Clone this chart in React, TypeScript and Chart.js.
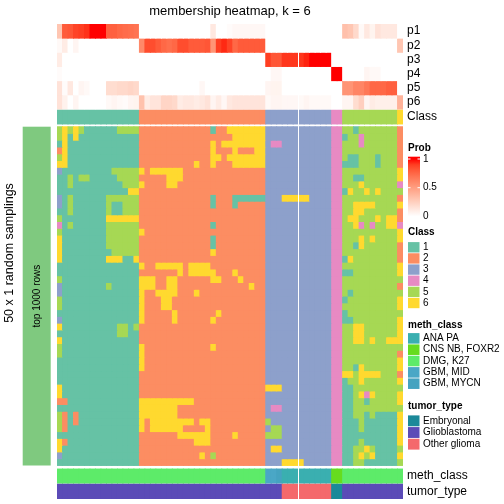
import React, { useEffect, useRef } from "react";
import { Chart, registerables } from "chart.js";

Chart.register(...registerables);

// ---------------- DATA ----------------
// column (sample) consensus class, blocks separated by spaces for readability
const columnClass = "111111111111111 22222222222222222222222 333333333333 44 5555555555 6";

// membership probabilities p1..p6 per column (63 columns)
const p1 = [
  0.3, 0.8, 0.82, 0.88, 0.9, 0.93, 1, 1, 1, 0.78, 0.78, 0.75, 0.73, 0.72, 0.7,
  0, 0, 0, 0, 0, 0, 0, 0, 0, 0, 0, 0, 0, 0.12, 0, 0, 0.02, 0.04, 0.04, 0.04, 0.04, 0.04, 0.04,
  0, 0, 0, 0, 0, 0, 0, 0, 0, 0, 0, 0,
  0, 0,
  0.33, 0.3, 0.2, 0.03, 0.12, 0.06, 0.15, 0.12, 0.12, 0.12,
  0,
];
const p2 = [
  0.03, 0.1, 0, 0.05, 0, 0, 0, 0, 0, 0, 0, 0, 0, 0, 0,
  0.6, 0.85, 0.85, 0.8, 0.75, 0.72, 0.75, 0.85, 0.85, 0.8, 0.8, 0.8, 0.82, 0.55, 0.9, 0.95, 0.88, 0.75, 0.8, 0.8, 0.8, 0.8, 0.8,
  0, 0, 0, 0, 0, 0, 0, 0, 0, 0, 0, 0,
  0, 0,
  0, 0, 0, 0, 0, 0, 0, 0, 0, 0,
  0.3,
];
const p3 = [
  0.1, 0, 0, 0, 0, 0, 0, 0, 0, 0, 0, 0, 0, 0, 0,
  0, 0, 0, 0, 0, 0, 0, 0, 0, 0, 0, 0, 0, 0, 0, 0, 0, 0, 0, 0, 0, 0, 0,
  0.9, 0.82, 0.82, 0.92, 0.92, 0.92, 0.92, 0.96, 1, 1, 1, 1,
  0, 0,
  0, 0, 0, 0, 0, 0, 0, 0, 0, 0,
  0,
];
const p4 = [
  0.02, 0, 0, 0, 0, 0, 0, 0, 0, 0, 0, 0, 0, 0, 0,
  0, 0, 0, 0, 0, 0, 0, 0, 0, 0, 0, 0, 0, 0, 0, 0, 0, 0, 0, 0, 0, 0, 0,
  0, 0.04, 0.04, 0, 0, 0, 0, 0, 0, 0, 0, 0,
  1, 1,
  0, 0, 0, 0, 0.05, 0.03, 0.03, 0, 0, 0,
  0,
];
const p5 = [
  0.15, 0.02, 0.12, 0, 0.05, 0.03, 0, 0, 0, 0.18, 0.18, 0.2, 0.2, 0.22, 0.2,
  0, 0, 0, 0, 0, 0, 0, 0, 0, 0, 0, 0.04, 0, 0, 0, 0, 0, 0, 0, 0, 0, 0, 0,
  0.05, 0.06, 0.06, 0, 0, 0, 0, 0, 0, 0, 0, 0,
  0, 0,
  0.55, 0.55, 0.62, 0.62, 0.68, 0.75, 0.75, 0.75, 0.78, 0.78,
  0,
];
const p6 = [
  0.15, 0.07, 0, 0.05, 0, 0, 0, 0, 0, 0.03, 0.05, 0.03, 0.02, 0.05, 0.06,
  0.32, 0.1, 0.14, 0.14, 0.22, 0.22, 0.2, 0.1, 0.12, 0.12, 0.1, 0.12, 0.15, 0.05, 0.1, 0.04, 0.12, 0.14, 0.14, 0.14, 0.14, 0.14, 0.14,
  0.03, 0.05, 0.05, 0.04, 0.04, 0.04, 0.03, 0.05, 0.03, 0.03, 0.03, 0.03,
  0, 0,
  0.05, 0.05, 0.18, 0.25, 0.05, 0.1, 0.08, 0.08, 0.08, 0.08,
  0.4,
];
const probRows = [p1, p2, p3, p4, p5, p6];
const probNames = ["p1", "p2", "p3", "p4", "p5", "p6"];

// class assigned in each of the 50 random samplings (rows) for each column
const samplingRows = [
  "565651111115555 22222222222221226666666 333333333333 44 5515555555 2",
  "561611111111111 22222222222222222666666 333333333333 44 1554555555 2",
  "161111111111111 22222222222226266666666 344333333333 44 5554555555 2",
  "261111111111111 22222222222226222622266 333333333333 44 5555555555 2",
  "561111111111111 22222222222226626666666 333333333333 44 5115551555 2",
  "661111111111111 22222222226226222666666 333333333333 44 1115551555 2",
  "311111111155555 62666666222222222222222 333333333333 44 5555555555 6",
  "115155111115555 22222666222222222222222 333333333333 44 5511555555 6",
  "115111111111555 62222662222222222222222 333333333333 44 5556555555 4",
  "111111111111166 22222222222222222222222 333333333333 44 1655656555 5",
  "315111111555555 22222222222221222111111 333666663333 44 5555555555 2",
  "315111111511555 22222222222221222122222 333333333333 44 5566665555 6",
  "115111111511555 22222222222222222222222 333333333333 44 5566555555 2",
  "511111111666666 22222222222222222222222 333333333333 44 5665556566 2",
  "415111111555555 22222222222221222222222 333333333333 44 5564545566 4",
  "511111111555555 62222222222222222222222 333333333333 44 5555555555 6",
  "611111111555555 22222222222221222222222 333333333333 44 5556565555 6",
  "611111111555555 22222222222221222222222 333333333333 44 5516555555 2",
  "611111111155555 22222222222226222222222 333333333333 44 5555555555 2",
  "611111111666116 22222222222222222222222 333333333333 44 1655555555 2",
  "111111111111111 62266666266662222222222 333333333333 44 5555555555 6",
  "111111111111111 22222226266666222622222 333333333333 44 1155555555 6",
  "511111111111111 66622662222226622262222 333333333333 44 5555555555 5",
  "311111111511111 66622662222222222222622 333333333333 44 5555555555 2",
  "311111111111111 62266662226222222222222 333333333333 44 5155555555 5",
  "511111111111111 62226622222222222222222 333333333333 44 1555555555 6",
  "511111111111111 62226622222222222222222 333333333333 44 5555555555 6",
  "111111111111111 62222262222222622222222 333333333333 44 1555555555 5",
  "311111111111111 62222262222226222222222 333333333333 44 1155555555 6",
  "611111111115515 22222222222222222222222 333333333333 44 5566555555 6",
  "111111111115511 22222222222222222222222 333333333333 44 5566555555 6",
  "611111111111111 22222222222222222222222 333333333333 44 5566565566 6",
  "511111111111111 62222222222226222222222 333333333333 44 5555555555 5",
  "511111111111111 62222222222222222222222 333333333333 44 5555555555 2",
  "111111111111111 62222222222222222222222 333333333333 44 5555555555 6",
  "111111111111111 62222222222222222222222 333333333333 44 5516555555 6",
  "111111111111111 22222222222222222222222 333333333333 44 6656666555 2",
  "111111111111111 22222222222222222222222 333333333333 44 1556555555 6",
  "611111111111111 22222222222222222222222 666333333333 44 1155555555 5",
  "611111111111111 22222222222222222222222 333333333333 44 1156465555 6",
  "221111111111111 66666666662222222222222 333333333333 44 1155155555 6",
  "111111111111111 66666662222222222222222 344333333333 44 1155555555 5",
  "521211111111111 66666662222222222222222 333333333333 44 1155151111 6",
  "521211111111111 62666666662662222222222 533333333333 44 1115111111 6",
  "521111111111111 62666666222262222222222 355333333333 44 1115111111 6",
  "111111111111111 22222226666662222622222 555333333333 44 1111111111 6",
  "621111111111111 22222222226662222222222 333333333333 44 1115111111 6",
  "611111111111111 22222222222222222222222 366333333333 44 1155651111 5",
  "311111111111111 22222222222625222222222 333333333333 44 1156561111 6",
  "111111111111111 22222222222222222222222 333666633333 44 1155111111 5",
];

// bottom annotations, one code per column
const methClassCodes = "DDDDDDDDDDDDDDD DDDDDDDDDDDDDDDDDDDDDDD MMYAAAAAAAAA CC DDDDDDDDDDD";
const tumorTypeCodes = "GGGGGGGGGGGGGGG GGGGGGGGGGGGGGGGGGGGGGG GGGOOOOOOOOO EE GGGGGGGGGGG";

const classLevels = ["1", "2", "3", "4", "5", "6"];
const methLevels = ["ANA PA", "CNS NB, FOXR2", "DMG, K27", "GBM, MID", "GBM, MYCN"];
const methCodeMap: Record<string, string> = { A: "ANA PA", C: "CNS NB, FOXR2", D: "DMG, K27", M: "GBM, MID", Y: "GBM, MYCN" };
const tumorLevels = ["Embryonal", "Glioblastoma", "Other glioma"];
const tumorCodeMap: Record<string, string> = { E: "Embryonal", G: "Glioblastoma", O: "Other glioma" };
const probLegendTicks = [1, 0.5, 0];

// ---------------- STYLE ----------------
const CLASS_COLORS: Record<string, string> = {
  "1": "#66C2A5", "2": "#FC8D62", "3": "#8DA0CB", "4": "#E78AC3", "5": "#A6D854", "6": "#FFD92F",
};
const METH_COLORS: Record<string, string> = {
  "ANA PA": "#3AAFB0", "CNS NB, FOXR2": "#66DC1E", "DMG, K27": "#5DEB69", "GBM, MID": "#4AA7C6", "GBM, MYCN": "#45A3C0",
};
const TUMOR_COLORS: Record<string, string> = {
  Embryonal: "#1B8999", Glioblastoma: "#5B4BB7", "Other glioma": "#F4696C",
};
const ROW_TITLE_BG = "#7FC97F";
const FONT = '"Liberation Sans", Arial, Helvetica, sans-serif';

// layout (pixels)
const CANVAS = 504;
const PLOT = { left: 57, right: 403, top: 24, bottom: 499 };
const Y_MAX = PLOT.bottom - PLOT.top;
const P_ROW_H = 14.17;
const CLASS_TOP = 86, CLASS_H = 14;
const MAIN_TOP = 102.7, MAIN_ROW_H = 6.776;
const METH_TOP = 445, METH_H = 14;
const TUMOR_TOP = 460, TUMOR_H = 14.6;
const SPLIT_AFTER_COL = 43;

const clean = (s: string) => s.replace(/\s+/g, "").split("");

// white -> red ramp in LAB space
function labToHex(L: number, a: number, b: number) {
  const fy = (L + 16) / 116, fx = fy + a / 500, fz = fy - b / 200;
  const finv = (t: number) => (t * t * t > 0.008856 ? t * t * t : (t - 16 / 116) / 7.787);
  const X = 0.95047 * finv(fx), Y = finv(fy), Z = 1.08883 * finv(fz);
  const lin = [
    3.2404542 * X - 1.5371385 * Y - 0.4985314 * Z,
    -0.969266 * X + 1.8760108 * Y + 0.041556 * Z,
    0.0556434 * X - 0.2040259 * Y + 1.0572252 * Z,
  ];
  const out = lin.map((c) => {
    const v = c <= 0.0031308 ? 12.92 * c : 1.055 * Math.pow(Math.max(c, 0), 1 / 2.4) - 0.055;
    return Math.round(Math.min(1, Math.max(0, v)) * 255);
  });
  return `rgb(${out[0]},${out[1]},${out[2]})`;
}
const probColor = (v: number) => labToHex(100 + (53.24 - 100) * v, 80.09 * v, 67.2 * v);

const barStyle = {
  borderWidth: 0,
  barPercentage: 1,
  categoryPercentage: 1,
  grouped: false,
  inflateAmount: 0.45,
};

function band(label: string, top: number, h: number, colors: string[]) {
  return {
    label,
    data: colors.map(() => [top, top + h] as [number, number]),
    backgroundColor: colors,
    ...barStyle,
  };
}

const classCols = clean(columnClass);
const columnIds = classCols.map((_, i) => `S${i + 1}`);

function buildDatasets() {
  const ds: any[] = [];
  probRows.forEach((row, k) => ds.push(band(probNames[k], k * P_ROW_H, P_ROW_H, row.map(probColor))));
  ds.push(band("Class", CLASS_TOP, CLASS_H, classCols.map((c) => CLASS_COLORS[c])));
  samplingRows.forEach((r, i) => {
    const cells = clean(r);
    ds.push(band(`sampling ${i + 1}`, MAIN_TOP + i * MAIN_ROW_H, MAIN_ROW_H, cells.map((c) => CLASS_COLORS[c])));
  });
  ds.push(band("meth_class", METH_TOP, METH_H, clean(methClassCodes).map((c) => METH_COLORS[methCodeMap[c]])));
  ds.push(band("tumor_type", TUMOR_TOP, TUMOR_H, clean(tumorTypeCodes).map((c) => TUMOR_COLORS[tumorCodeMap[c]])));
  return ds;
}

const overlay = {
  id: "overlay",
  afterDatasetsDraw(chart: any) {
    const { ctx, scales } = chart;
    const x = scales.x, y = scales.y;
    ctx.save();
    // column split line
    const xs = (x.getPixelForValue(SPLIT_AFTER_COL) + x.getPixelForValue(SPLIT_AFTER_COL + 1)) / 2;
    ctx.fillStyle = "#ffffff";
    ctx.fillRect(Math.floor(xs), y.getPixelForValue(0) - 1, 1, y.getPixelForValue(Y_MAX) - y.getPixelForValue(0) + 2);

    ctx.fillStyle = "#000";
    ctx.textBaseline = "middle";
    // title
    ctx.font = `13px ${FONT}`;
    ctx.textAlign = "center";
    ctx.fillText("membership heatmap, k = 6", (x.left + x.right) / 2, 11);

    // annotation names on the right
    ctx.font = `12px ${FONT}`;
    ctx.textAlign = "left";
    const nameX = x.right + 4;
    probNames.forEach((n, k) => ctx.fillText(n, nameX, y.getPixelForValue(k * P_ROW_H + P_ROW_H / 2)));
    ctx.fillText("Class", nameX, y.getPixelForValue(CLASS_TOP + CLASS_H / 2));
    ctx.fillText("meth_class", nameX, y.getPixelForValue(METH_TOP + METH_H / 2));
    ctx.fillText("tumor_type", nameX, y.getPixelForValue(TUMOR_TOP + TUMOR_H / 2));

    // row title block
    const mTop = y.getPixelForValue(MAIN_TOP);
    const mBot = y.getPixelForValue(MAIN_TOP + samplingRows.length * MAIN_ROW_H);
    ctx.fillStyle = ROW_TITLE_BG;
    ctx.fillRect(22.7, mTop, 28, mBot - mTop);
    ctx.fillStyle = "#000";
    ctx.save();
    ctx.translate(37, (mTop + mBot) / 2);
    ctx.rotate(-Math.PI / 2);
    ctx.textAlign = "center";
    ctx.font = `10px ${FONT}`;
    ctx.fillText("top 1000 rows", 0, 0);
    ctx.restore();

    ctx.save();
    ctx.translate(10, 253);
    ctx.rotate(-Math.PI / 2);
    ctx.textAlign = "center";
    ctx.font = `12.5px ${FONT}`;
    ctx.fillText("50 x 1 random samplings", 0, 0);
    ctx.restore();

    // ---- legends ----
    const lx = 408, labX = 423;
    ctx.textAlign = "left";
    // Prob
    ctx.font = `bold 10px ${FONT}`;
    ctx.fillText("Prob", lx, 148);
    const gTop = 159, gBot = 216.4;
    const grad = ctx.createLinearGradient(0, gTop, 0, gBot);
    for (let i = 0; i <= 10; i++) grad.addColorStop(i / 10, probColor(1 - i / 10));
    ctx.fillStyle = grad;
    ctx.fillRect(lx, 156.7, 12, 61);
    ctx.font = `10px ${FONT}`;
    probLegendTicks.forEach((t) => {
      const ty = gBot - (gBot - gTop) * t;
      ctx.fillStyle = "#fff";
      ctx.fillRect(lx, ty - 0.5, 2.5, 1);
      ctx.fillRect(lx + 9.5, ty - 0.5, 2.5, 1);
      ctx.fillStyle = "#000";
      ctx.fillText(String(t), labX, ty);
    });

    const drawDiscrete = (title: string, titleY: number, boxTop: number, boxH: number, levels: string[], colors: Record<string, string>) => {
      ctx.font = `bold 10px ${FONT}`;
      ctx.fillStyle = "#000";
      ctx.fillText(title, lx, titleY);
      ctx.font = `10px ${FONT}`;
      levels.forEach((lv, i) => {
        const by = boxTop + i * boxH;
        ctx.fillStyle = colors[lv];
        ctx.fillRect(lx, by + 0.4, 11.5, boxH - 0.8);
        ctx.fillStyle = "#000";
        ctx.fillText(lv, labX, by + boxH / 2);
      });
    };
    drawDiscrete("Class", 232, 241.7, 11.15, classLevels, CLASS_COLORS);
    drawDiscrete("meth_class", 325, 332.7, 11.33, methLevels, METH_COLORS);
    drawDiscrete("tumor_type", 406, 415, 11.67, tumorLevels, TUMOR_COLORS);
    ctx.restore();
  },
};

export default function App() {
  const ref = useRef<HTMLCanvasElement>(null);
  useEffect(() => {
    if (!ref.current) return;
    const chart = new Chart(ref.current, {
      type: "bar",
      data: { labels: columnIds, datasets: buildDatasets() },
      options: {
        responsive: false,
        animation: false,
        devicePixelRatio: 1,
        events: [],
        layout: {
          padding: { left: PLOT.left, right: CANVAS - PLOT.right, top: PLOT.top, bottom: CANVAS - PLOT.bottom },
        },
        scales: {
          x: { type: "category", display: false, offset: true },
          y: { type: "linear", display: false, min: 0, max: Y_MAX, reverse: true },
        },
        plugins: {
          legend: { display: false },
          tooltip: { enabled: false },
          title: { display: false },
        },
      } as any,
      plugins: [overlay],
    });
    return () => chart.destroy();
  }, []);
  return (
    <div style={{ position: "absolute", left: 0, top: 0, width: CANVAS, height: CANVAS, background: "#fff" }}>
      <canvas ref={ref} width={CANVAS} height={CANVAS} style={{ display: "block", width: CANVAS, height: CANVAS }} />
    </div>
  );
}
